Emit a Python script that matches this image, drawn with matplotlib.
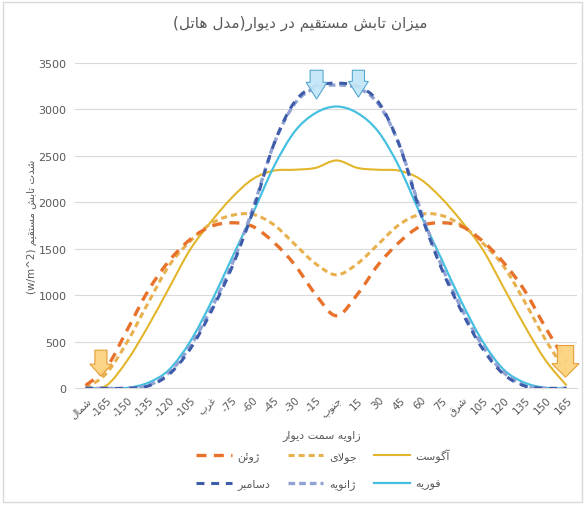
import re
import numpy as np
import matplotlib
matplotlib.use('Agg')
import matplotlib.pyplot as plt
from matplotlib.path import Path
from matplotlib.patches import PathPatch, FancyArrow, Rectangle
from matplotlib.lines import Line2D
from matplotlib.transforms import ScaledTranslation

# ---------------- data ----------------
title = 'میزان تابش مستقیم در دیوار(مدل هاتل)'
y_label = 'شدت تابش مستقیم (w/m^2)'
x_label = 'زاویه سمت دیوار'
x_labels = ['شمال', '-165', '-150', '-135', '-120', '-105', 'غرب', '-75', '-60', '-45', '-30', '-15',
            'جنوب', '15', '30', '45', '60', '75', 'شرق', '105', '120', '135', '150', '165']

june = [30, 220, 630, 1050, 1370, 1600, 1740, 1780, 1740, 1570, 1330, 1010,
        780, 1010, 1330, 1570, 1740, 1780, 1740, 1580, 1350, 1050, 650, 280]
july = [0, 160, 500, 920, 1320, 1580, 1770, 1860, 1870, 1760, 1550, 1340,
        1220, 1340, 1550, 1760, 1870, 1860, 1750, 1560, 1310, 930, 520, 170]
august = [0, 30, 300, 670, 1080, 1490, 1790, 2050, 2250, 2340, 2350, 2370,
          2450, 2370, 2350, 2340, 2250, 2050, 1790, 1490, 1080, 670, 300, 30]
december = [0, 0, 0, 25, 150, 420, 820, 1300, 1900, 2620, 3080, 3250,
            3280, 3250, 3080, 2620, 1900, 1300, 820, 420, 150, 25, 0, 0]
january = [0, 0, 0, 30, 170, 450, 850, 1330, 1930, 2620, 3060, 3230,
           3260, 3230, 3060, 2620, 1930, 1330, 850, 450, 170, 30, 0, 0]
february = [0, 0, 5, 60, 200, 500, 920, 1400, 1880, 2380, 2760, 2960,
            3030, 2960, 2760, 2380, 1880, 1400, 920, 500, 200, 60, 5, 0]

series_names = ['ژوئن', 'جولای', 'آگوست', 'دسامبر', 'ژانویه', 'فوریه']

# ---------------- Persian shaping (for matplotlib without complex text layout) ----------------
def _f(*codes):
    return tuple(chr(c) if c else None for c in codes)

FORMS = {
    'ا': _f(0xFE8D, 0xFE8E, 0, 0), 'آ': _f(0xFE81, 0xFE82, 0, 0),
    'ب': _f(0xFE8F, 0xFE90, 0xFE91, 0xFE92), 'پ': _f(0xFB56, 0xFB57, 0xFB58, 0xFB59),
    'ت': _f(0xFE95, 0xFE96, 0xFE97, 0xFE98), 'ج': _f(0xFE9D, 0xFE9E, 0xFE9F, 0xFEA0),
    'چ': _f(0xFB7A, 0xFB7B, 0xFB7C, 0xFB7D), 'د': _f(0xFEA9, 0xFEAA, 0, 0),
    'ر': _f(0xFEAD, 0xFEAE, 0, 0), 'ز': _f(0xFEAF, 0xFEB0, 0, 0), 'ژ': _f(0xFB8A, 0xFB8B, 0, 0),
    'س': _f(0xFEB1, 0xFEB2, 0xFEB3, 0xFEB4), 'ش': _f(0xFEB5, 0xFEB6, 0xFEB7, 0xFEB8),
    'غ': _f(0xFECD, 0xFECE, 0xFECF, 0xFED0), 'ف': _f(0xFED1, 0xFED2, 0xFED3, 0xFED4),
    'ق': _f(0xFED5, 0xFED6, 0xFED7, 0xFED8), 'ک': _f(0xFB8E, 0xFB8F, 0xFB90, 0xFB91),
    'گ': _f(0xFB92, 0xFB93, 0xFB94, 0xFB95), 'ل': _f(0xFEDD, 0xFEDE, 0xFEDF, 0xFEE0),
    'م': _f(0xFEE1, 0xFEE2, 0xFEE3, 0xFEE4), 'ن': _f(0xFEE5, 0xFEE6, 0xFEE7, 0xFEE8),
    'ه': _f(0xFEE9, 0xFEEA, 0xFEEB, 0xFEEC), 'و': _f(0xFEED, 0xFEEE, 0, 0),
    'ی': _f(0xFBFC, 0xFBFD, 0xFBFE, 0xFBFF), 'ي': _f(0xFEF1, 0xFEF2, 0xFEF3, 0xFEF4),
    'ئ': _f(0xFE89, 0xFE8A, 0xFE8B, 0xFE8C),
}
LAMALEF = {'ا': (chr(0xFEFB), chr(0xFEFC)), 'آ': (chr(0xFEF5), chr(0xFEF6))}


def _dual(c):
    return c in FORMS and FORMS[c][2] is not None


def shape(s):
    out, i, n = [], 0, len(s)
    while i < n:
        c = s[i]
        if c not in FORMS:
            out.append(c); i += 1; continue
        pj = i > 0 and _dual(s[i - 1])
        if c == 'ل' and i + 1 < n and s[i + 1] in LAMALEF:
            iso, fin = LAMALEF[s[i + 1]]
            out.append(fin if pj else iso); i += 2; continue
        nj = _dual(c) and i + 1 < n and s[i + 1] in FORMS
        iso, fin, ini, med = FORMS[c]
        out.append(med if (pj and nj) else fin if pj else ini if nj else iso)
        i += 1
    return ''.join(out)


LTR_RE = re.compile(r'\([\x21-\x7e]*[A-Za-z0-9][\x21-\x7e]*\)|[A-Za-z0-9][\x21-\x7e]*')
MIRROR = {'(': ')', ')': '('}


def visual(s):
    if not any('\u0600' <= ch <= '\u06ff' for ch in s):
        return s
    t = shape(s)
    units, pos = [], 0
    for m in LTR_RE.finditer(t):
        units += [MIRROR.get(ch, ch) for ch in t[pos:m.start()]]
        units.append(m.group())
        pos = m.end()
    units += [MIRROR.get(ch, ch) for ch in t[pos:]]
    return ''.join(reversed(units))


def smooth_path(xs, ys):
    pts = np.column_stack([xs, ys]).astype(float)
    n = len(pts)
    verts, codes = [pts[0]], [Path.MOVETO]
    for i in range(n - 1):
        p0 = pts[i - 1] if i > 0 else pts[i]
        p1, p2 = pts[i], pts[i + 1]
        p3 = pts[i + 2] if i + 2 < n else pts[i + 1]
        verts += [p1 + (p2 - p0) / 6, p2 - (p3 - p1) / 6, p2]
        codes += [Path.CURVE4] * 3
    return Path(verts, codes)


# ---------------- figure ----------------
plt.rcParams['font.family'] = ['DejaVu Sans']
TXT = '#595959'

fig = plt.figure(figsize=(5.85, 5.06), dpi=100)
ax = fig.add_axes([75 / 585, 1 - 389.3 / 506, 502 / 585, (389.3 - 63.8) / 506])
x = np.arange(len(x_labels))
ax.set_xlim(-0.5, len(x_labels) - 0.5)
ax.set_ylim(0, 3500)
ax.set_yticks(np.arange(0, 3501, 500))
ax.grid(axis='y', color='#D9D9D9', lw=0.8)
ax.set_axisbelow(True)
for s in ['top', 'right', 'left']:
    ax.spines[s].set_visible(False)
ax.spines['bottom'].set_color('#D9D9D9')
ax.tick_params(length=0, colors=TXT, labelsize=8)
ax.tick_params(axis='y', pad=6)
ax.set_xticks(x)
ax.set_xticklabels([visual(l) for l in x_labels], rotation=45, ha='right', va='center',
                   rotation_mode='anchor', color=TXT, fontsize=7.5)
ax.tick_params(axis='x', pad=7)
shift = ScaledTranslation(4 / 100, 0, fig.dpi_scale_trans)
for lab in ax.get_xticklabels():
    lab.set_transform(lab.get_transform() + shift)

styles = [
    dict(color='#E8722B', lw=2.4, ls=(0, (3.0, 2.2))),
    dict(color='#E9B04E', lw=2.2, ls=(0, (2.0, 1.3))),
    dict(color='#E3B52A', lw=1.5, ls='-'),
    dict(color='#3F5CAA', lw=2.2, ls=(0, (2.6, 2.2))),
    dict(color='#90A3D4', lw=2.4, ls=(0, (2.0, 1.2))),
    dict(color='#46C0E0', lw=1.6, ls='-'),
]
all_series = [june, july, august, december, january, february]
draw_order = [2, 1, 0, 5, 4, 3]
for k in draw_order:
    st = styles[k]
    ax.add_patch(PathPatch(smooth_path(x, all_series[k]), fill=False, edgecolor=st['color'],
                           lw=st['lw'], linestyle=st['ls'], capstyle='butt', joinstyle='round', zorder=3))

# decorative block arrows (annotation shapes)
arrows = [
    (11.05, 3420, 3110, 0.62, 1.0, 180, '#C3E6F7', '#4FA3CF'),
    (13.05, 3420, 3130, 0.58, 0.95, 170, '#C3E6F7', '#4FA3CF'),
    (0.74, 410, 130, 0.58, 1.05, 130, '#FCD480', '#E59A2F'),
    (22.95, 460, 120, 0.78, 1.30, 145, '#FCD480', '#E59A2F'),
]
for cx, top, tip, bw, hw, hl, fc, ec in arrows:
    ax.add_patch(FancyArrow(cx, top, 0, tip - top, width=bw, head_width=hw, head_length=hl,
                            length_includes_head=True, fc=fc, ec=ec, lw=0.8, zorder=5, alpha=0.95,
                            clip_on=False))

ax.set_ylabel(visual(y_label), fontsize=7.5, color=TXT)
ax.yaxis.set_label_coords(-0.076, 0.5)

fig.text(300 / 585, 1 - 23 / 506, visual(title), ha='center', va='center', fontsize=11, color=TXT)
fig.text(322 / 585, 1 - 436 / 506, visual(x_label), ha='center', va='center', fontsize=8, color=TXT)

handles = [Line2D([], [], color=st['color'], lw=st['lw'], ls=st['ls'], dash_capstyle='butt') for st in styles]
order = [0, 3, 1, 4, 2, 5]
fig.legend([handles[i] for i in order], [visual(series_names[i]) for i in order], ncol=3, loc='center',
           bbox_to_anchor=(323 / 585, 1 - 470 / 506), frameon=False, fontsize=8, handlelength=3.2,
           columnspacing=1.6, handletextpad=0.5, labelspacing=1.45, labelcolor=TXT)

fig.patches.append(Rectangle((3 / 585, 3 / 506), 579 / 585, 500 / 506, transform=fig.transFigure,
                             fill=False, edgecolor='#D9D9D9', lw=1))

fig.savefig('out.png', dpi=100)
